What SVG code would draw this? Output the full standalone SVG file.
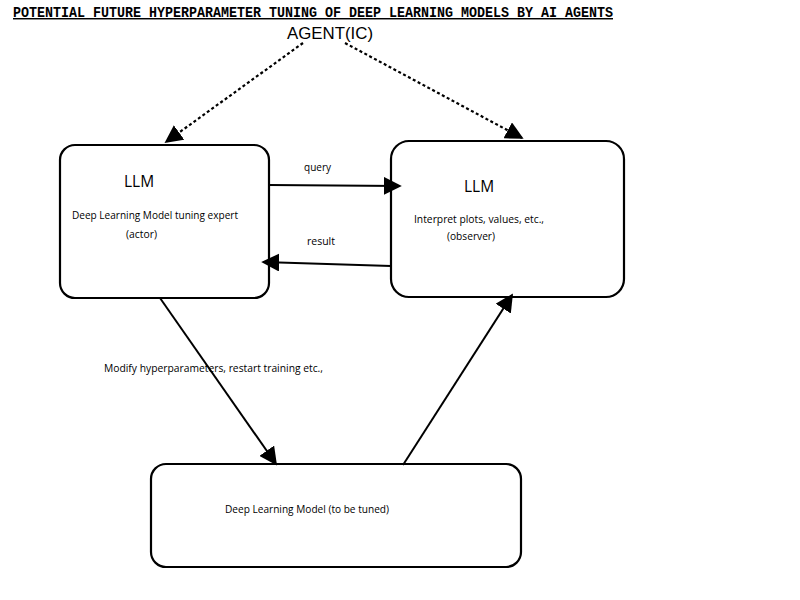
<svg xmlns="http://www.w3.org/2000/svg" width="800" height="600" viewBox="0 0 800 600">
<style>
.box{fill:#fff;stroke:#000;stroke-width:2.2}
.t{font-family:"Open Sans","DejaVu Sans",sans-serif;fill:#000}
.line{stroke:#000;stroke-width:2;fill:none}
.dash{stroke:#000;stroke-width:2.2;fill:none;stroke-dasharray:3 2.5}
</style>
<defs>
<marker id="ahb" viewBox="0 0 10 10" refX="9" refY="5" markerWidth="18" markerHeight="18" markerUnits="userSpaceOnUse" orient="auto">
<path d="M0,0 L10,5 L0,10 Z" fill="#000"/>
</marker>
</defs>
<rect width="800" height="600" fill="#fff"/>
<text x="13" y="17" font-family="Liberation Mono, monospace" font-weight="bold" font-size="14.5" text-decoration="underline" textLength="600" lengthAdjust="spacingAndGlyphs">POTENTIAL FUTURE HYPERPARAMETER TUNING OF DEEP LEARNING MODELS BY AI AGENTS</text>
<g id="agent"><text x="287" y="39" font-family="Liberation Sans, sans-serif" font-size="16" fill="#000" textLength="86" lengthAdjust="spacingAndGlyphs">AGENT(IC)</text></g>
<g id="actor">
<rect class="box" x="60" y="145" width="209" height="153" rx="15"/>
<text class="t" x="124" y="187" font-size="15.5">LLM</text>
<text class="t" x="72" y="219" font-size="10" textLength="166" lengthAdjust="spacingAndGlyphs">Deep Learning Model tuning expert</text>
<text class="t" x="126" y="238" font-size="10" textLength="31" lengthAdjust="spacingAndGlyphs">(actor)</text>
</g>
<g id="observer">
<rect class="box" x="391" y="141" width="233" height="156" rx="18"/>
<text class="t" x="464" y="192" font-size="15.5">LLM</text>
<text class="t" x="414" y="223" font-size="10" textLength="130" lengthAdjust="spacingAndGlyphs">Interpret plots, values, etc.,</text>
<text class="t" x="447" y="240" font-size="10" textLength="48" lengthAdjust="spacingAndGlyphs">(observer)</text>
</g>
<g id="model">
<rect class="box" x="151" y="464" width="370" height="103" rx="15"/>
<text class="t" x="225" y="513" font-size="10" textLength="164" lengthAdjust="spacingAndGlyphs">Deep Learning Model (to be tuned)</text>
</g>
<g id="connectors">
<line class="dash" x1="303" y1="43" x2="166" y2="142" marker-end="url(#ahb)"/>
<line class="dash" x1="345" y1="43" x2="522" y2="138" marker-end="url(#ahb)"/>
<line class="line" x1="269" y1="185" x2="400" y2="186" marker-end="url(#ahb)"/>
<line class="line" x1="391" y1="266" x2="263" y2="262" marker-end="url(#ahb)"/>
<line class="line" x1="160" y1="298" x2="276" y2="464" marker-end="url(#ahb)"/>
<line class="line" x1="403" y1="465" x2="512" y2="295" marker-end="url(#ahb)"/>
<text class="t" x="304" y="171" font-size="10" textLength="27" lengthAdjust="spacingAndGlyphs">query</text>
<text class="t" x="307" y="245" font-size="10" textLength="28" lengthAdjust="spacingAndGlyphs">result</text>
<text class="t" x="104" y="372" font-size="10" textLength="219" lengthAdjust="spacingAndGlyphs">Modify hyperparameters, restart training etc.,</text>
</g>
</svg>
